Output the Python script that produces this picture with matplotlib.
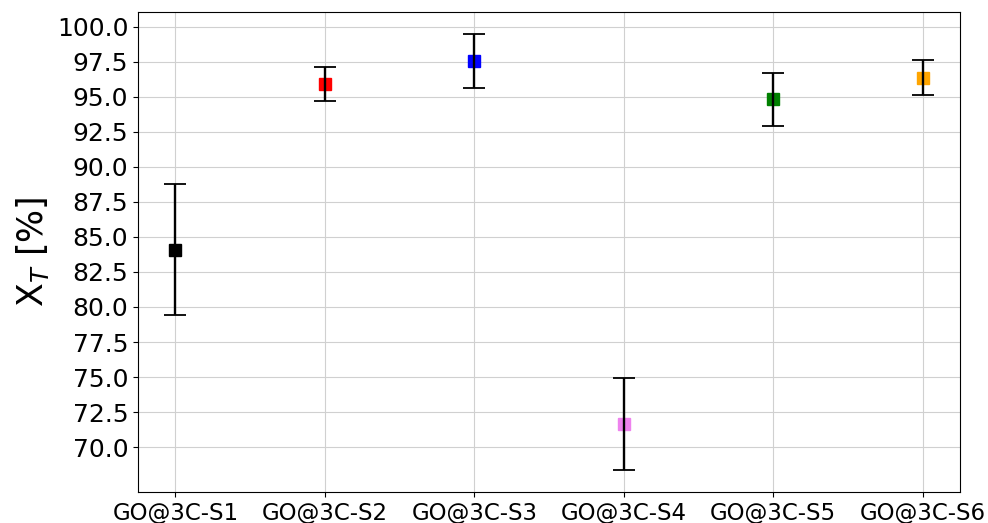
import matplotlib
matplotlib.use("Agg")
import matplotlib.pyplot as plt

# Catalyst samples and measured conversion (mean +/- std)
samples = ["GO@3C-S1", "GO@3C-S2", "GO@3C-S3", "GO@3C-S4", "GO@3C-S5", "GO@3C-S6"]
conversion = [84.1, 95.9, 97.55, 71.65, 94.83, 96.38]
conversion_err = [4.67, 1.2, 1.95, 3.3, 1.89, 1.24]
colors = ["black", "red", "blue", "violet", "green", "orange"]

fig = plt.figure(figsize=(9.88, 5.23), dpi=100)
ax = fig.add_axes([0.1397, 0.0593, 0.832, 0.9177])

x = range(len(samples))
for i in x:
    ax.plot(i, conversion[i], marker="s", markersize=9, color=colors[i],
            linestyle="none", zorder=2)
ax.errorbar(list(x), conversion, yerr=conversion_err, fmt="none",
            ecolor="black", elinewidth=1.7, capsize=8, capthick=1.3, zorder=3)

ax.set_xticks(list(x))
ax.set_xticklabels(samples, fontsize=16.5)
ax.set_yticks([70.0 + 2.5 * k for k in range(13)])
ax.tick_params(axis="y", labelsize=18)
ax.set_ylabel("X$_T$ [%]", fontsize=25)
ax.grid(True, color="#d0d0d0", linewidth=0.8)
ax.set_axisbelow(True)

plt.savefig("out.png", dpi=100)
